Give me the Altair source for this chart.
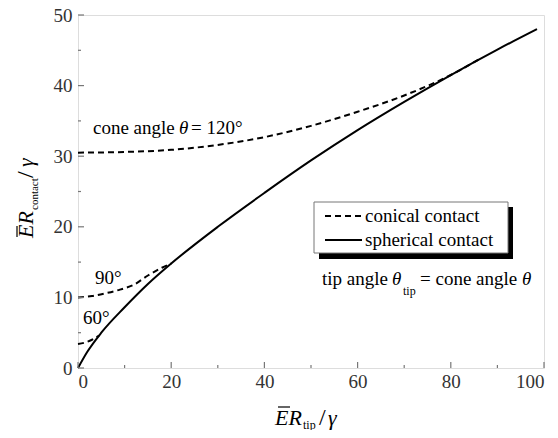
import altair as alt
import pandas as pd

# ---- data ----
sph_x = [0, 2, 5, 10, 15, 20, 30, 40, 50, 60, 70, 80, 90, 98.5]
sph_y = [0, 2.3, 5.0, 8.6, 11.9, 14.8, 20.0, 24.8, 29.4, 33.7, 37.7, 41.5, 45.1, 48.0]

c120_x = [0, 10, 20, 30, 40, 50, 60, 70, 80, 86]
c120_y = [30.5, 30.6, 30.9, 31.6, 32.7, 34.3, 36.3, 38.6, 41.5, 43.7]

c90_x = [0, 3, 6, 9, 12, 15, 18, 20]
c90_y = [10.0, 10.2, 10.6, 11.1, 11.8, 13.1, 14.2, 14.8]

c60_x = [0, 1.5, 3, 4.5]
c60_y = [3.4, 3.6, 4.0, 4.6]

x_major = [0, 20, 40, 60, 80, 100]
x_minor = [10, 30, 50, 70, 90]
y_major = [0, 10, 20, 30, 40, 50]
y_minor = [5, 15, 25, 35, 45]

W, H = 466, 353
FONT = "Liberation Serif, Times New Roman, Times, serif"
FS = 19

xs = alt.Scale(domain=[0, 100], nice=False, zero=False)
ys = alt.Scale(domain=[0, 50], nice=False, zero=False)

sph_df = pd.DataFrame({"x": sph_x, "y": sph_y, "s": "sph"})
con_df = pd.concat([
    pd.DataFrame({"x": c120_x, "y": c120_y, "s": "120"}),
    pd.DataFrame({"x": c90_x, "y": c90_y, "s": "90"}),
    pd.DataFrame({"x": c60_x, "y": c60_y, "s": "60"}),
])

xaxis = alt.Axis(values=x_major, format="d", ticks=False, domain=False, grid=False,
                 title=None, labelFont=FONT, labelFontSize=FS, labelColor="#333",
                 labelPadding=4)
yaxis = alt.Axis(values=y_major, format="d", ticks=False, domain=False, grid=False,
                 title=None, labelFont=FONT, labelFontSize=FS, labelColor="#333",
                 labelPadding=6)

sph = alt.Chart(sph_df).mark_line(color="black", strokeWidth=2, interpolate="monotone").encode(
    x=alt.X("x:Q", scale=xs, axis=xaxis),
    y=alt.Y("y:Q", scale=ys, axis=yaxis),
)
con = alt.Chart(con_df).mark_line(color="black", strokeWidth=2, strokeDash=[6, 4],
                                  interpolate="monotone").encode(
    x=alt.X("x:Q", scale=xs),
    y=alt.Y("y:Q", scale=ys),
    detail="s:N",
)

# inward ticks
def xticks(vals, ln):
    return alt.Chart(pd.DataFrame({"v": vals})).mark_rule(color="#777", strokeWidth=1.2).encode(
        x=alt.X("v:Q", scale=xs), y=alt.value(H), y2=alt.value(H - ln))

def yticks(vals, ln):
    return alt.Chart(pd.DataFrame({"v": vals})).mark_rule(color="#777", strokeWidth=1.2).encode(
        y=alt.Y("v:Q", scale=ys), x=alt.value(0), x2=alt.value(ln))

one = pd.DataFrame({"a": [0]})

def txt(s, x, y, size=FS, style="normal", align="left", baseline="middle", angle=0):
    kw = dict(text=s, font=FONT, fontSize=size, fontStyle=style, align=align,
              baseline=baseline, color="black")
    if angle:
        kw["angle"] = angle
    return alt.Chart(one).mark_text(**kw).encode(x=alt.value(x), y=alt.value(y))

def rule(x1, x2, y1, y2, color="black", width=1.0, dash=None):
    kw = dict(color=color, strokeWidth=width)
    if dash:
        kw["strokeDash"] = dash
    return alt.Chart(one).mark_rule(**kw).encode(
        x=alt.value(x1), x2=alt.value(x2), y=alt.value(y1), y2=alt.value(y2))

def rect(x1, x2, y1, y2, fill, stroke=None):
    kw = dict(fill=fill)
    if stroke:
        kw["stroke"] = stroke
        kw["strokeWidth"] = 1
    return alt.Chart(one).mark_rect(**kw).encode(
        x=alt.value(x1), x2=alt.value(x2), y=alt.value(y1), y2=alt.value(y2))

annos = [
    # cone angle theta = 120
    txt("cone angle", 15, 113),
    txt("θ", 101, 113, style="italic"),
    txt("= 120°", 113, 113),
    txt("90°", 17, 263),
    txt("60°", 5, 303),
    # tip angle text
    txt("tip angle", 244, 264),
    txt("θ", 314, 264, style="italic"),
    txt("tip", 325, 276, size=12),
    txt("= cone angle", 342, 264),
    txt("θ", 444, 264, style="italic"),
    # legend
    rect(241, 435, 192, 244, "black"),
    rect(236, 430, 187, 238, "white", "#777"),
    rule(247, 284, 201, 201, width=2, dash=[6, 4]),
    rule(247, 284, 225, 225, width=2),
    txt("conical contact", 287, 201),
    txt("spherical contact", 287, 225),
    # x title
    txt("ER", 197, 410, size=22, style="italic", baseline="alphabetic"),
    rule(200, 212, 392, 392, width=1.2),
    txt("tip", 225, 414, size=12, baseline="alphabetic"),
    txt("/", 241, 410, size=24, baseline="alphabetic"),
    txt("γ", 250, 410, size=22, style="italic", baseline="alphabetic"),
    # y title (rotated)
    txt("ER", -45, 223, size=22, style="italic", baseline="alphabetic", angle=270),
    rule(-61, -61, 211, 222, width=1.2),
    txt("contact", -40, 195, size=11, baseline="alphabetic", angle=270),
    txt("/", -45, 163, size=24, baseline="alphabetic", angle=270),
    txt("γ", -45, 152, size=22, style="italic", baseline="alphabetic", angle=270),
]

chart = alt.layer(
    sph, con,
    xticks(x_major, 6), xticks(x_minor, 3),
    yticks(y_major, 6), yticks(y_minor, 3),
    *annos,
).properties(
    width=W, height=H,
    autosize=alt.AutoSizeParams(type="none"),
    padding={"left": 70, "top": 7, "right": 6, "bottom": 62},
).configure_view(stroke="#888", strokeWidth=1.5).configure(background="white")

chart.save("out.html", embed_options={"renderer": "svg", "actions": False})
